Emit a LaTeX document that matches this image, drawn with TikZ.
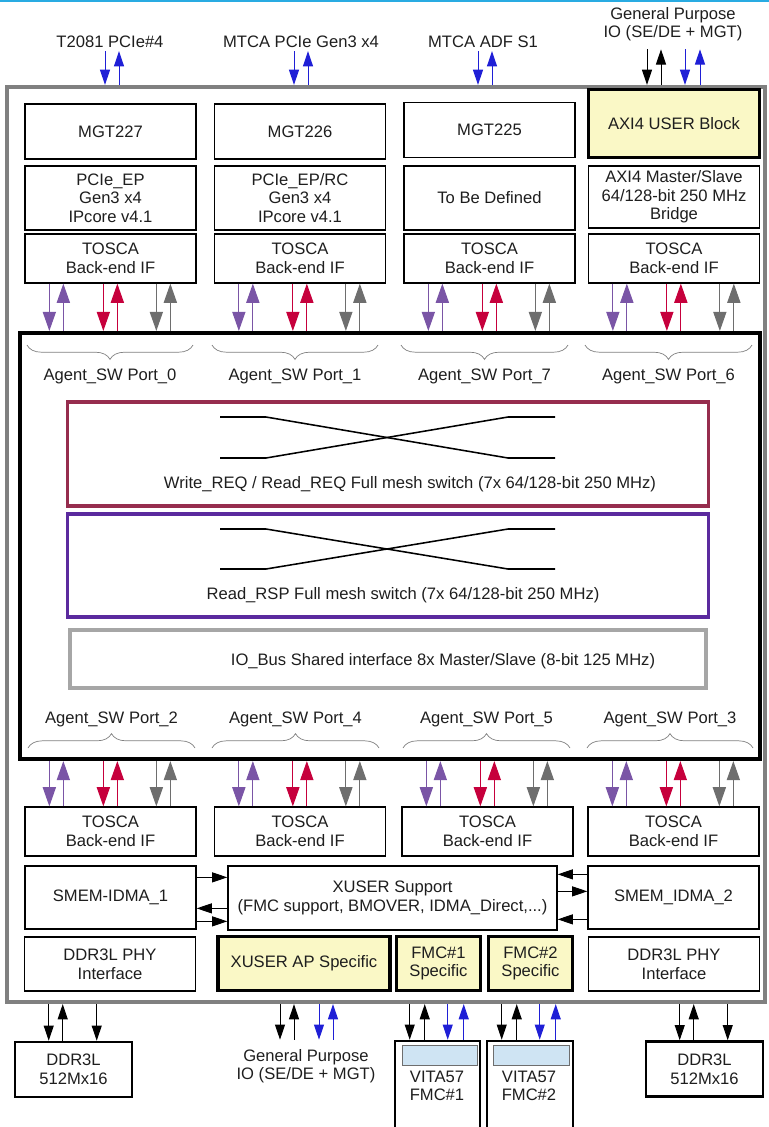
\documentclass[tikz,border=0pt]{standalone}
\usepackage{fontspec}
\setmainfont{Liberation Sans}
\definecolor{toscaCian}{HTML}{29ABE2}
\definecolor{toscaMarco}{HTML}{808080}
\definecolor{toscaBus}{HTML}{A6A6A6}
\definecolor{toscaAmarillo}{HTML}{FAF8C6}
\definecolor{toscaMorado}{HTML}{7A55A6}
\definecolor{toscaRojo}{HTML}{C6003C}
\definecolor{toscaGris}{HTML}{6E6E6E}
\definecolor{toscaAzul}{HTML}{1F1FD6}
\definecolor{toscaGranate}{HTML}{962D4E}
\definecolor{toscaIndigo}{HTML}{5B2A9E}
\definecolor{toscaCeleste}{HTML}{CFE4F3}
\definecolor{toscaTexto}{HTML}{1E1E1E}
\usetikzlibrary{
	arrows.meta,
	calc,
	decorations.pathreplacing
}
\tikzset{
	bloque/.style={
		draw=black,
		line width=0.9pt,
		fill=white,
		align=center,
		inner sep=0pt,
		text=toscaTexto,
		minimum width=4.275cm,
		font=\fontsize{11.8}{13.2}\selectfont
	},
	usuario/.style={
		bloque,
		fill=toscaAmarillo,
		line width=2.2pt
	},
	memoria/.style={
		bloque,
		line width=1.8pt,
		minimum width=2.925cm,
		minimum height=1.375cm
	},
	etiqueta/.style={
		align=center,
		inner sep=0pt,
		text=toscaTexto,
		font=\fontsize{11.8}{13.2}\selectfont
	},
	malla/.style={
		draw,
		line width=2.2pt,
		minimum width=16cm,
		inner sep=0pt
	},
	flechaChica/.style={
		-{Triangle[length=3.8mm,width=2.5mm]},
		line width=0.7pt
	},
	flechaAzul/.style={
		flechaChica,
		toscaAzul
	},
	flechaGrande/.style={
		-{Triangle[length=4.8mm,width=3.3mm]},
		line width=0.8pt
	},
	llave/.style={
		decorate,
		decoration={brace,amplitude=3.6mm},
		draw=toscaMarco,
		line width=0.5pt
	},
	cruce/.style={
		line width=1.1pt
	}
}
\begin{document}
\begin{tikzpicture}[x=0.025cm, y=-0.025cm]
	\useasboundingbox (0,0) rectangle (769,1127);
	\draw[toscaCian, line width=1.4pt] (0,1) -- (769,1);
	\node[draw=toscaMarco, line width=2.8pt, minimum width=18.95cm, minimum height=22.875cm, inner sep=0pt] (marco) at (386,544.5) {};

	\node[etiqueta] (t2081) at (110,42) {T2081 PCIe\#4};
	\node[etiqueta] (mtcaPcie) at (301,42) {MTCA PCIe Gen3 x4};
	\node[etiqueta] (mtcaAdf) at (483,42) {MTCA ADF S1};
	\node[etiqueta] (gpioSup) at (673,24) {General Purpose\\IO (SE/DE + MGT)};
	\foreach \n/\dx in {t2081/-5, mtcaPcie/-7, mtcaAdf/-5} {
		\path (\n.south) ++(\dx,3) coordinate (baja) ++(14,0) coordinate (sube);
		\draw[flechaAzul] (baja) -- (baja |- marco.north);
		\draw[flechaAzul] (sube |- marco.north) -- (sube);
	}
	\path (gpioSup.south) ++(-26,8) coordinate (baja) ++(14,0) coordinate (sube);
	\draw[flechaChica] (baja) -- (baja |- marco.north);
	\draw[flechaChica] (sube |- marco.north) -- (sube);
	\path (gpioSup.south) ++(12,8) coordinate (baja) ++(15,0) coordinate (sube);
	\draw[flechaAzul] (baja) -- (baja |- marco.north);
	\draw[flechaAzul] (sube |- marco.north) -- (sube);

	\node[bloque, minimum height=1.375cm] (mgtA) at (110.5,131.5) {MGT227};
	\node[bloque, minimum height=1.375cm] (mgtB) at (300,131.5) {MGT226};
	\node[bloque, minimum height=1.375cm] (mgtC) at (489.5,130) {MGT225};
	\node[usuario, minimum height=1.7cm] (axiUser) at (674,123.5) {AXI4 USER Block};
	\node[bloque, minimum height=1.6cm] (pcieA) at (110.5,198) {PCIe\_EP\\Gen3 x4\\IPcore v4.1};
	\node[bloque, minimum height=1.6cm] (pcieB) at (300,198) {PCIe\_EP/RC\\Gen3 x4\\IPcore v4.1};
	\node[bloque, minimum height=1.6cm] (tbd) at (489.5,198) {To Be Defined};
	\node[bloque, minimum height=1.55cm] (axiBridge) at (674,197) {AXI4 Master/Slave\\64/128-bit 250 MHz\\Bridge};
	\foreach \n/\x in {tA/110.5, tB/300, tC/489.5, tD/674}
		\node[bloque, minimum height=1.225cm] (\n) at (\x,258.5) {TOSCA\\Back-end IF};

	\node[draw=black, line width=2.8pt, minimum width=18.5cm, minimum height=10.65cm, inner sep=0pt] (sw) at (390,546) {};
	\node[malla, draw=toscaGranate, minimum height=2.6cm] (wreq) at (388,454) {};
	\node[malla, draw=toscaIndigo, minimum height=2.575cm] (rrsp) at (388,565.5) {};
	\node[malla, draw=toscaBus, line width=2.8pt, minimum width=15.9cm, minimum height=1.45cm] (iobus) at (388,659) {};
	\foreach \ya/\yb in {417/458, 529/569} {
		\draw[cruce] (220,\ya) -- (266,\ya) -- (508,\yb) -- (555,\yb);
		\draw[cruce] (220,\yb) -- (266,\yb) -- (508,\ya) -- (555,\ya);
	}
	\node[etiqueta] (wreqTxt) at (410,484) {Write\_REQ / Read\_REQ Full mesh switch (7x 64/128-bit 250 MHz)};
	\node[etiqueta] (rrspTxt) at (403,595) {Read\_RSP Full mesh switch (7x 64/128-bit 250 MHz)};
	\node[etiqueta] (iobusTxt) at (443,661) {IO\_Bus Shared interface 8x Master/Slave (8-bit 125 MHz)};

	\foreach \a/\b/\lab in {27/193/0, 212/378/1, 401/568/7, 585/752/6} {
		\draw[llave] (\b,345) -- (\a,345);
		\node[etiqueta] (pSup\lab) at ({(\a+\b)/2},376) {Agent\_SW Port\_\lab};
	}
	\foreach \a/\b/\lab in {28/195/2, 212/379/4, 403/570/5, 587/753/3} {
		\draw[llave] (\a,748) -- (\b,748);
		\node[etiqueta] (pInf\lab) at ({(\a+\b)/2},719) {Agent\_SW Port\_\lab};
	}

	\foreach \n in {tA,tB,tC,tD}
		\foreach \dx/\col in {25/toscaMorado, 79/toscaRojo, 132/toscaGris} {
			\path (\n.south west) ++(\dx,0) coordinate (baja) ++(14,0) coordinate (sube);
			\draw[flechaGrande, \col] (baja) -- (baja |- sw.north);
			\draw[flechaGrande, \col] (sube |- sw.north) -- (sube);
		}

	\foreach \n/\x in {bA/110.5, bB/300, bC/487.5, bD/673.5}
		\node[bloque, minimum height=1.225cm] (\n) at (\x,831.5) {TOSCA\\Back-end IF};
	\foreach \n in {bA,bB,bC,bD}
		\foreach \dx/\col in {25/toscaMorado, 79/toscaRojo, 132/toscaGris} {
			\path (\n.north west) ++(\dx,0) coordinate (baja) ++(14,0) coordinate (sube);
			\draw[flechaGrande, \col] (baja |- sw.south) -- (baja);
			\draw[flechaGrande, \col] (sube) -- (sube |- sw.south);
		}

	\node[bloque, minimum height=1.575cm] (smemA) at (110.5,897.5) {SMEM-IDMA\_1};
	\node[bloque, minimum width=8.225cm, minimum height=1.6cm] (xuser) at (392.5,898) {XUSER Support\\(FMC support, BMOVER, IDMA\_Direct,...)};
	\node[bloque, minimum height=1.575cm] (smemB) at (673.5,897.5) {SMEM\_IDMA\_2};
	\foreach \dy in {12,56} {
		\path (smemA.north east) ++(0,\dy) coordinate (p);
		\draw[flechaChica] (p) -- (p -| xuser.west);
	}
	\path (smemA.north east) ++(0,43) coordinate (p);
	\draw[flechaChica] (p -| xuser.west) -- (p);
	\foreach \dy in {9,54} {
		\path (smemB.north west) ++(0,\dy) coordinate (p);
		\draw[flechaChica] (p) -- (p -| xuser.east);
	}
	\path (smemB.north west) ++(0,26) coordinate (p);
	\draw[flechaChica] (p -| xuser.east) -- (p);

	\node[bloque, minimum height=1.35cm] (phyA) at (110,964) {DDR3L PHY\\Interface};
	\node[usuario, minimum width=4.3cm, minimum height=1.35cm] (xuserAp) at (304,963.5) {XUSER AP Specific};
	\node[usuario, minimum width=2.1cm, minimum height=1.35cm] (fmcA) at (438.5,963.5) {FMC\#1\\Specific};
	\node[usuario, minimum width=2.1cm, minimum height=1.35cm] (fmcB) at (530.5,963.5) {FMC\#2\\Specific};
	\node[bloque, minimum height=1.35cm] (phyB) at (674,964) {DDR3L PHY\\Interface};

	\node[memoria] (ddrA) at (73.5,1069.5) {DDR3L\\512Mx16};
	\node[memoria] (ddrB) at (704.5,1069) {DDR3L\\512Mx16};
	\foreach \n in {ddrA,ddrB} {
		\path (\n.north west) ++(35,0) coordinate (baja) ++(14,0) coordinate (sube) ++(34,0) coordinate (otra);
		\draw[flechaChica] (baja |- marco.south) -- (baja);
		\draw[flechaChica] (sube) -- (sube |- marco.south);
		\draw[flechaChica] (otra |- marco.south) -- (otra);
	}

	\node[etiqueta] (gpioInf) at (306,1066) {General Purpose\\IO (SE/DE + MGT)};
	\path (gpioInf.north) ++(-26,-9) coordinate (baja) ++(14,0) coordinate (sube);
	\draw[flechaChica] (baja |- marco.south) -- (baja);
	\draw[flechaChica] (sube) -- (sube |- marco.south);
	\path (gpioInf.north) ++(13,-9) coordinate (baja) ++(14,0) coordinate (sube);
	\draw[flechaAzul] (baja |- marco.south) -- (baja);
	\draw[flechaAzul] (sube) -- (sube |- marco.south);

	\node[bloque, line width=1.8pt, minimum width=2.125cm, minimum height=3cm] (vitaA) at (437.5,1101) {};
	\node[bloque, line width=1.8pt, minimum width=2.15cm, minimum height=3cm] (vitaB) at (530,1101) {};
	\node[draw=toscaGris, fill=toscaCeleste, line width=0.5pt, minimum width=1.875cm, minimum height=0.5cm, inner sep=0pt] (ranuraA) at (439.5,1055) {};
	\node[draw=toscaGris, fill=toscaCeleste, line width=0.5pt, minimum width=1.9cm, minimum height=0.5cm, inner sep=0pt] (ranuraB) at (531,1055) {};
	\node[etiqueta] (vitaATxt) at (437,1086) {VITA57\\FMC\#1};
	\node[etiqueta] (vitaBTxt) at (529,1086) {VITA57\\FMC\#2};
	\foreach \n in {vitaA,vitaB} {
		\path (\n.north west) ++(16,0) coordinate (baja) ++(15,0) coordinate (sube);
		\draw[flechaChica] (baja |- marco.south) -- (baja);
		\draw[flechaChica] (sube) -- (sube |- marco.south);
		\path (\n.north west) ++(54,0) coordinate (baja) ++(16,0) coordinate (sube);
		\draw[flechaAzul] (baja |- marco.south) -- (baja);
		\draw[flechaAzul] (sube) -- (sube |- marco.south);
	}
\end{tikzpicture}
\end{document}
